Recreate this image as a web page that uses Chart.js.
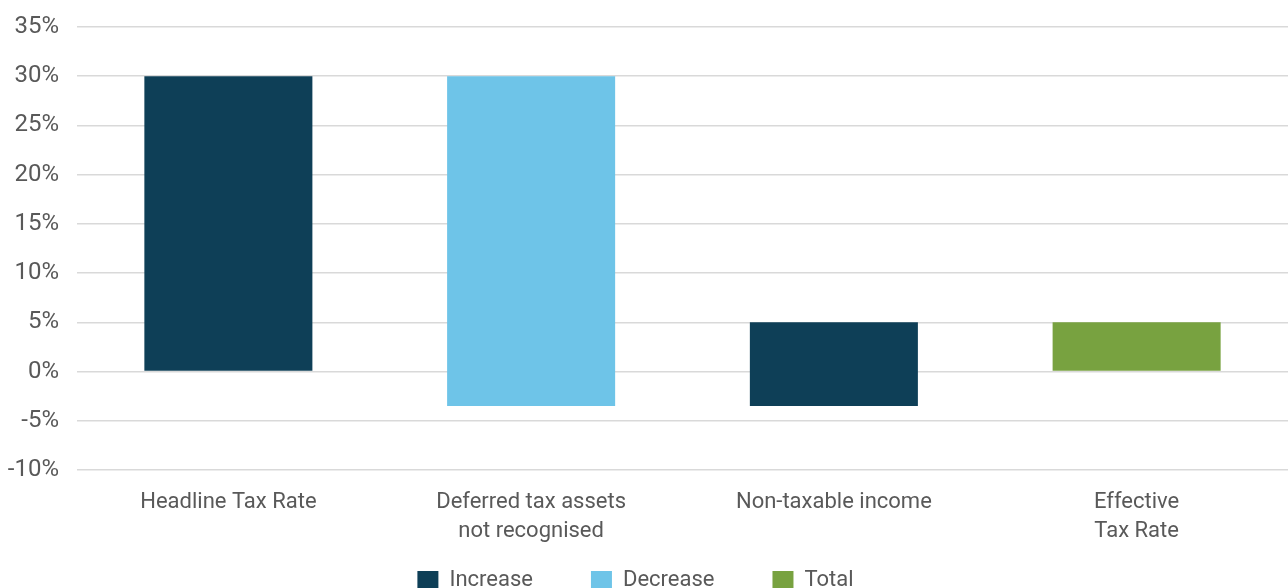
<!DOCTYPE html>
<html>
<head>
<meta charset="utf-8">
<script src="https://cdn.jsdelivr.net/npm/chart.js@4"></script>
<style>
  html, body { margin: 0; padding: 0; background: #fff; }
  #wrap { width: 1288px; height: 588px; }
</style>
</head>
<body>
<div id="wrap"><canvas id="waterfall"></canvas></div>
<script>
const categories = [['Headline Tax Rate'], ['Deferred tax assets', 'not recognised'], ['Non-taxable income'], ['Effective', 'Tax Rate']];
const barStart = [0, 30, -3.5, 0];
const barEnd = [30, -3.5, 5, 5];
const barKind = ['Increase', 'Decrease', 'Increase', 'Total'];
const kinds = ['Increase', 'Decrease', 'Total'];
const kindColors = ['#0e3f57', '#6ec4e8', '#78a240'];
const yTicks = [-10, -5, 0, 5, 10, 15, 20, 25, 30, 35];

// one dataset per legend entry, nulls where the bar belongs to another kind
var datasets = kinds.map(function (k, i) {
    return {
        label: k,
        data: barKind.map(function (b, j) { return b === k ? [barStart[j], barEnd[j]] : null; }),
        backgroundColor: kindColors[i],
        borderWidth: 0,
        grouped: false,
        barPercentage: 1,
        categoryPercentage: 0.555
    };
});

// nudge the legend a little to the left, the original is not quite centred
var legendNudge = {
    id: 'legendNudge',
    afterLayout: function (chart) {
        chart.legend.left -= 12;
        chart.legend.right -= 12;
    }
};

var ctx = document.getElementById('waterfall').getContext('2d');
var chart = new Chart(ctx, {
    type: 'bar',
    data: { labels: categories, datasets: datasets },
    plugins: [legendNudge],
    options: {
        responsive: true,
        maintainAspectRatio: false,
        animation: false,
        layout: { padding: { top: 27, right: 0, left: 7, bottom: -13 } },
        plugins: {
            tooltip: { enabled: false },
            legend: {
                position: 'bottom',
                labels: {
                    boxWidth: 21,
                    boxHeight: 18,
                    padding: 58,
                    color: '#595959',
                    font: { family: 'Roboto', size: 22 }
                }
            }
        },
        scales: {
            x: {
                grid: { display: false, drawTicks: false },
                border: { display: false },
                ticks: { color: '#595959', padding: 18, font: { family: 'Roboto', size: 22, lineHeight: 1.32 }, maxRotation: 0 },
                // let the two-line labels run into the legend's padding, as in the original
                afterFit: function (axis) {
                    axis.height = 41;
                    axis._computeLabelArea = function () {};
                }
            },
            y: {
                min: yTicks[0],
                max: yTicks[yTicks.length - 1],
                afterBuildTicks: function (axis) { axis.ticks = yTicks.map(function (v) { return { value: v }; }); },
                afterFit: function (axis) {
                    axis.width = 70;
                    axis.paddingTop = 0;
                    axis.paddingBottom = 0;
                },
                grid: { color: '#d9d9d9', lineWidth: 1.5, drawTicks: false },
                border: { display: false },
                ticks: {
                    color: '#595959',
                    padding: 18,
                    font: { family: 'Roboto', size: 24 },
                    callback: function (v) { return v + '%'; }
                }
            }
        }
    }
});
</script>
</body>
</html>
